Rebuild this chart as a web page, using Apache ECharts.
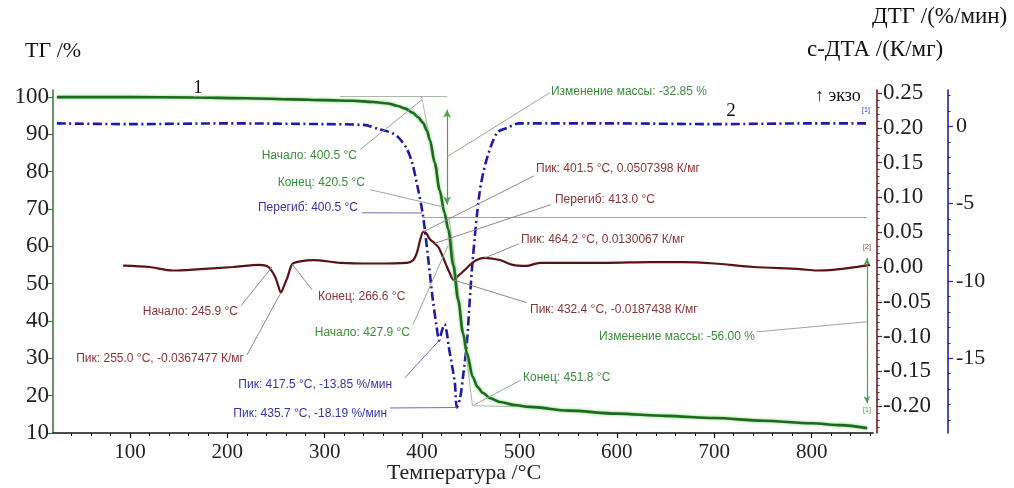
<!DOCTYPE html>
<html><head><meta charset="utf-8">
<script src="https://cdn.jsdelivr.net/npm/echarts@6/dist/echarts.min.js"></script>
<style>html,body{margin:0;padding:0;background:#fff}#c{width:1014px;height:488px}</style>
</head><body><div id="c"></div>
<script>
// ---------- data ----------
const tgTemp   = [25, 100, 165, 220, 267, 300, 329, 350, 365, 374, 383, 390.5, 396, 401, 405, 408, 413, 418, 423, 427, 432, 437, 442, 446, 452, 457, 462.5, 470, 480, 495, 510.6, 550, 600, 650, 700, 750, 800, 830, 857];
const tgValues = [100.0, 100.0, 99.9, 99.7, 99.4, 99.2, 99.0, 98.7, 98.3, 97.7, 96.9, 95.8, 94.6, 93.1, 91.0, 88.5, 82.4, 75.1, 69.0, 64.4, 55.0, 45.7, 36.8, 31.4, 25.0, 22.3, 20.7, 19.3, 18.3, 17.5, 17.0, 16.0, 15.2, 14.6, 14.0, 13.3, 12.6, 12.1, 11.3];

const dtaTemp   = [93, 120, 144, 172, 206, 233, 242, 249, 252.5, 255, 258.5, 262, 266.6, 275, 288, 316, 350, 384.5, 391, 395, 398, 401.5, 405, 408, 413, 417, 421.5, 425, 428.5, 432.4, 437, 444, 450, 456, 464.2, 472, 480, 493, 507, 521, 555, 590, 634, 668, 700, 740, 788, 805, 822, 846, 860];
const dtaValues = [0.002, 0.0, -0.005, -0.003, 0.0, 0.003, 0.0, -0.014, -0.028, -0.0367, -0.026, -0.014, 0.004, 0.008, 0.010, 0.006, 0.005, 0.006, 0.010, 0.022, 0.039, 0.0507, 0.047, 0.040, 0.034, 0.028, 0.014, 0.002, -0.009, -0.0187, -0.013, -0.004, 0.004, 0.010, 0.013, 0.012, 0.010, 0.003, 0.0015, 0.006, 0.006, 0.006, 0.007, 0.007, 0.005, 0.0, -0.003, -0.005, -0.004, 0.0, 0.003];

const dtgTemp   = [25, 100, 200, 300, 340, 357, 366, 374, 384, 390, 395, 400.5, 406, 411, 415, 417.5, 420, 423, 428, 433.6, 435.7, 439, 442, 446, 449, 452, 459, 466, 477, 487, 500, 600, 700, 800, 857];
const dtgValues = [0.2, 0.15, 0.2, 0.15, 0.1, -0.2, -0.35, -0.6, -1.4, -2.4, -3.8, -5.6, -8.4, -11.2, -13.0, -13.85, -13.3, -12.8, -14.5, -16.6, -18.19, -17.6, -16.2, -14.0, -11.2, -8.6, -4.3, -2.2, -0.4, -0.1, 0.2, 0.2, 0.15, 0.2, 0.2];

const xTicks   = [100, 200, 300, 400, 500, 600, 700, 800];
const tgTicks  = [10, 20, 30, 40, 50, 60, 70, 80, 90, 100];
const dtaTicks = [-0.20, -0.15, -0.10, -0.05, 0.00, 0.05, 0.10, 0.15, 0.20, 0.25];
const dtgTicks = [-15, -10, -5, 0];

const xRange   = [21, 863];
const tgRange  = [10, 101.9];
const dtaRange = [-0.2385, 0.2543];
const dtgRange = [-19.84, 2.36];

// minor tick positions
const xMinor = []; for (let v = 40; v <= 860; v += 20) if (v % 100) xMinor.push(v);
const dtaMinor = []; for (let i = -23; i <= 25; i++) if (i % 5) dtaMinor.push(i / 100);
const dtgMinor = []; for (let i = -19; i <= 2; i++) if (i % 5) dtgMinor.push(i);

// annotations: s = series whose axes the point uses (0 TG, 1 DTA, 2 DTG); end/at in TG coordinates
const annotations = [
  {text:'Изменение массы: -32.85 %', k:'g', s:0, pt:[425.6, 84.0], end:[531.3, 101.2], at:[532.3, 101.5], align:'left'},
  {text:'Изменение массы: -56.00 %', k:'g', s:0, pt:[856.8, 39.8], end:[743.9, 37.1], at:[741.8, 35.75], align:'right'},
  {text:'Начало: 400.5 °C', k:'g', s:0, pt:[399.9, 99.3], end:[336.2, 85.9], at:[333.1, 84.3], align:'right'},
  {text:'Конец: 420.5 °C', k:'g', s:0, pt:[421.5, 70.6], end:[346.5, 75.2], at:[341.4, 77.1], align:'right'},
  {text:'Перегиб: 400.5 °C', k:'b', s:2, pt:[400.5, -5.6], end:[338.3, 69.0], at:[334.2, 70.4], align:'right'},
  {text:'Пик: 401.5 °C, 0.0507398 К/мг', k:'m', s:1, pt:[401.5, 0.0507], end:[514.9, 78.9], at:[517.0, 80.8], align:'left'},
  {text:'Перегиб: 413.0 °C', k:'m', s:1, pt:[413, 0.034], end:[532.3, 71.2], at:[536.4, 72.5], align:'left'},
  {text:'Пик: 464.2 °C, 0.0130067 К/мг', k:'m', s:1, pt:[464.2, 0.013], end:[499.5, 60.7], at:[501.5, 61.8], align:'left'},
  {text:'Пик: 432.4 °C, -0.0187438 К/мг', k:'m', s:1, pt:[432.4, -0.0187], end:[507.7, 44.9], at:[510.8, 43.0], align:'left'},
  {text:'Начало: 427.9 °C', k:'g', s:0, pt:[426.6, 60.2], end:[390.6, 39.0], at:[387.6, 36.8], align:'right'},
  {text:'Конец: 451.8 °C', k:'g', s:0, pt:[453.3, 17.5], end:[501.5, 24.2], at:[503.6, 24.8], align:'left'},
  {text:'Пик: 417.5 °C, -13.85 %/мин', k:'b', s:2, pt:[417.5, -13.85], end:[382.4, 24.8], at:[369.1, 22.9], align:'right'},
  {text:'Пик: 435.7 °C, -18.19 %/мин', k:'b', s:2, pt:[435.7, -18.19], end:[367.0, 16.7], at:[364.0, 15.1], align:'right'},
  {text:'Начало: 245.9 °C', k:'m', s:1, pt:[245.9, 0.0], end:[214.0, 44.1], at:[211.0, 42.5], align:'right'},
  {text:'Конец: 266.6 °C', k:'m', s:1, pt:[266.6, 0.004], end:[286.9, 48.4], at:[293.1, 46.5], align:'left'},
  {text:'Пик: 255.0 °C, -0.0367477 К/мг', k:'m', s:1, pt:[255, -0.0367], end:[220.2, 30.9], at:[217.1, 29.8], align:'right'}
];
const curveLabels = [
  {text:'1', at:[169.9, 102.5]},
  {text:'2', at:[717.2, 96.4]}
];
const smallMarks = [
  {text:'[1]', k:'b', at:[855.8, 96.6]},
  {text:'[2]', k:'m', at:[856.8, 59.9]},
  {text:'[1]', k:'g', at:[856.8, 16.2]}
];

// ---------- styles ----------
const textCol = {g:'#3b8d3b', m:'#8a3434', b:'#3535aa'};
const leadCol = {g:'#98a898', m:'#9a8383', b:'#6c6cc0'};
const SERIF = '"Liberation Serif", "Times New Roman", serif';
const SANS = '"Liberation Sans", Arial, sans-serif';

const zip = (a, b) => a.map((t, i) => [t, b[i]]);
const consLine = {color:'#a9b9a9', width:1, type:'solid'};
const baseLine = {color:'#a0a8a0', width:1, type:'solid'};
const arrowLine = {color:'#4f9f4f', width:1.2, type:'solid'};

const chart = echarts.init(document.getElementById('c'), null, {renderer:'canvas'});

function yAxisBase(range, pos, offset, color, ticks, fmt, fs, margin) {
  return {
    type:'value', position:pos, offset:offset, min:range[0], max:range[1],
    axisLine:{show:true, lineStyle:{color:color, width:1.6}},
    axisTick:{show:true, customValues:ticks, length:5, lineStyle:{color:color, width:1.2}},
    axisLabel:{show:true, customValues:ticks, formatter:fmt, color:'#222', fontFamily:SERIF, fontSize:fs, margin:margin},
    splitLine:{show:false}
  };
}
function minorAxis(range, pos, offset, color, ticks) {
  return {
    type:'value', position:pos, offset:offset, min:range[0], max:range[1],
    axisLine:{show:false}, axisLabel:{show:false}, splitLine:{show:false},
    axisTick:{show:true, customValues:ticks, length:2.5, lineStyle:{color:color, width:1}}
  };
}

const option = {
  animation:false,
  backgroundColor:'#ffffff',
  grid:{left:53, right:141, top:90, bottom:55, containLabel:false, outerBoundsMode:'none'},
  xAxis:[
    {type:'value', min:xRange[0], max:xRange[1], position:'bottom',
     axisLine:{show:true, onZero:false, lineStyle:{color:'#111', width:1.6}},
     axisTick:{show:true, customValues:xTicks, length:5, lineStyle:{color:'#111', width:1.2}},
     axisLabel:{customValues:xTicks, color:'#222', fontFamily:SERIF, fontSize:21, margin:9},
     splitLine:{show:false}},
    {type:'value', min:xRange[0], max:xRange[1], position:'bottom',
     axisLine:{show:false, onZero:false}, axisLabel:{show:false}, splitLine:{show:false},
     axisTick:{show:true, customValues:xMinor, length:3, lineStyle:{color:'#111', width:1}}}
  ],
  yAxis:[
    yAxisBase(tgRange, 'left', 0, '#3d7a3d', tgTicks, v => String(v), 23, 4),
    yAxisBase(dtaRange, 'right', 4, '#6e1f1f', dtaTicks, v => v.toFixed(2), 23, 6),
    yAxisBase(dtgRange, 'right', 75, '#2222aa', dtgTicks, v => String(v), 22, 8),
    minorAxis(dtaRange, 'right', 4, '#6e1f1f', dtaMinor),
    minorAxis(dtgRange, 'right', 75, '#2222aa', dtgMinor)
  ],
  series:[
    {type:'line', name:'ТГ', xAxisIndex:0, yAxisIndex:0, data:zip(tgTemp, tgValues),
     showSymbol:false, smooth:0.3, smoothMonotone:'x', z:5,
     lineStyle:{color:'#1b6b1b', width:2.6, shadowColor:'rgba(110,200,110,0.9)', shadowBlur:3},
     markLine:{silent:true, symbol:'none', label:{show:false}, animation:false,
       data:[
         [{coord:[315.7, 100.1], lineStyle:consLine}, {coord:[425.6, 100.1]}],
         [{coord:[399.9, 67.7], lineStyle:baseLine}, {coord:[856.8, 67.7]}],
         [{coord:[399.5, 100.1], lineStyle:consLine}, {coord:[423.5, 67.7]}],
         [{coord:[427.9, 67.2], lineStyle:consLine}, {coord:[451.8, 17.3]}],
         [{coord:[451.8, 17.3], lineStyle:consLine}, {coord:[530, 16.9]}],
         [{coord:[425.6, 96.6], symbol:'arrow', symbolSize:[6, 8], lineStyle:arrowLine}, {coord:[425.6, 71.2], symbol:'arrow', symbolSize:[6, 8]}],
         [{coord:[856.8, 56.9], symbol:'arrow', symbolSize:[5, 7], lineStyle:arrowLine}, {coord:[856.8, 18.0], symbol:'arrow', symbolSize:[5, 7]}]
       ]}},
    {type:'line', name:'с-ДТА', xAxisIndex:0, yAxisIndex:1, data:zip(dtaTemp, dtaValues),
     showSymbol:false, smooth:0.3, z:4,
     lineStyle:{color:'#5a1212', width:2.2}},
    {type:'line', name:'ДТГ', xAxisIndex:0, yAxisIndex:2, data:zip(dtgTemp, dtgValues),
     showSymbol:false, smooth:0.3, z:3,
     lineStyle:{color:'#1c1ca2', width:2.6, type:[9, 3.5, 2, 3.5]}}
  ]
};
chart.setOption(option);

// ---------- annotations & titles (positions through the chart's own scales) ----------
const toPx = (s, v) => chart.convertToPixel({seriesIndex:s}, v);
const g = [];
annotations.forEach(a => {
  const p = toPx(a.s, a.pt), e = toPx(0, a.end), t = toPx(0, a.at);
  g.push({type:'line', silent:true, z:10, shape:{x1:p[0], y1:p[1], x2:e[0], y2:e[1]},
          style:{stroke:leadCol[a.k], lineWidth:1}});
  g.push({type:'text', silent:true, z:11, x:t[0], y:t[1],
          style:{text:a.text, fill:textCol[a.k], font:'12px ' + SANS, textAlign:a.align, textVerticalAlign:'middle'}});
});
curveLabels.forEach(c => {
  const t = toPx(0, c.at);
  g.push({type:'text', silent:true, z:11, x:t[0], y:t[1],
          style:{text:c.text, fill:'#111', font:'19px ' + SERIF, textAlign:'center', textVerticalAlign:'middle'}});
});
smallMarks.forEach(c => {
  const t = toPx(0, c.at);
  g.push({type:'text', silent:true, z:11, x:t[0], y:t[1],
          style:{text:c.text, fill:textCol[c.k], font:'7px ' + SANS, textAlign:'center', textVerticalAlign:'middle'}});
});
// axis titles
g.push({type:'text', silent:true, x:25, y:51, style:{text:'ТГ /%', fill:'#111', font:'22px ' + SERIF, textAlign:'left', textVerticalAlign:'middle'}});
g.push({type:'text', silent:true, x:872, y:17, style:{text:'ДТГ /(%/мин)', fill:'#111', font:'23px ' + SERIF, textAlign:'left', textVerticalAlign:'middle'}});
g.push({type:'text', silent:true, x:807, y:50, style:{text:'с-ДТА /(К/мг)', fill:'#111', font:'23px ' + SERIF, textAlign:'left', textVerticalAlign:'middle'}});
g.push({type:'text', silent:true, x:815, y:96, style:{text:'↑ экзо', fill:'#111', font:'18px ' + SERIF, textAlign:'left', textVerticalAlign:'middle'}});
g.push({type:'text', silent:true, x:464, y:473, style:{text:'Температура /°C', fill:'#222', font:'22px ' + SERIF, textAlign:'center', textVerticalAlign:'middle'}});
chart.setOption({graphic:g});
</script>
</body></html>
